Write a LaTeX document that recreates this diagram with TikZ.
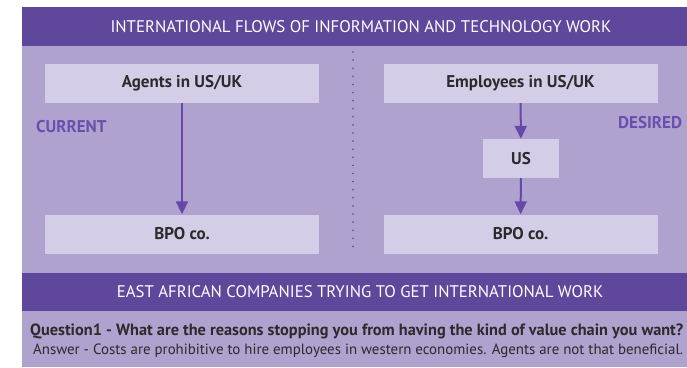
\documentclass[tikz,border=0pt]{standalone}
\usepackage{fontspec}
\setmainfont{PT Sans}
\usepackage{xcolor}
\usetikzlibrary{arrows.meta,positioning}
\definecolor{bandDark}{HTML}{5F479B}
\definecolor{panelLight}{HTML}{AFA2CE}
\definecolor{boxFill}{HTML}{D4CDE7}
\definecolor{flowArrow}{HTML}{6748AA}
\definecolor{labelText}{HTML}{6A4FAD}
\definecolor{boxText}{HTML}{2B2B2B}

\tikzset{
  flowbox/.style={fill=boxFill, text=boxText, inner sep=0pt,
    font=\fontsize{17}{19}\selectfont\bfseries,
    minimum width=274pt, minimum height=39pt},
  smallbox/.style={flowbox, minimum width=76pt},
  bandtitle/.style={text=white, font=\fontsize{16.8}{19}\selectfont},
  sidelabel/.style={text=labelText, inner sep=0pt,
    font=\fontsize{17}{19}\selectfont\bfseries},
  flow/.style={draw=flowArrow, line width=2pt,
    -{Triangle[length=13pt,width=12pt]}},
  divider/.style={draw=bandDark, line width=1.8pt, line cap=round,
    dash pattern=on 0pt off 8.1pt}
}

\begin{document}
\begin{tikzpicture}[x=1pt,y=-1pt]
  \useasboundingbox (0,0) rectangle (687,367);
  % panels
  \fill[white] (0,0) rectangle (687,367);
  \fill[panelLight] (22,7) rectangle (687,367);
  \fill[bandDark] (22,7) rectangle (687,46);
  \fill[bandDark] (22,273) rectangle (687,311);
  \node[bandtitle] (topTitle) at (361,27) {INTERNATIONAL FLOWS OF INFORMATION AND TECHNOLOGY WORK};
  \node[bandtitle] (lowTitle) at (360,292) {EAST AFRICAN COMPANIES TRYING TO GET INTERNATIONAL WORK};

  % current
  \node[flowbox] (agents) at (182,83.5) {Agents in US/UK};
  \node[flowbox] (bpoNow) at (182,234) {BPO co.};
  \node[sidelabel, anchor=west] (current) at (36,127) {CURRENT};
  \draw[flow] (agents) -- (bpoNow);

  \draw[divider] (353,52) -- (353,247);

  % desired
  \node[flowbox] (employees) at (520.5,83.5) {Employees in US/UK};
  \node[smallbox] (usHub) at (521,158.5) {US};
  \node[flowbox] (bpoWant) at (520.5,234) {BPO co.};
  \node[sidelabel, anchor=west] (desired) at (618,123) {DESIRED};
  \draw[flow] (employees) -- (usHub);
  \draw[flow] (usHub) -- (bpoWant);

  % question
  \node[anchor=west, inner sep=0pt, text=boxText, font=\fontsize{16.3}{18}\selectfont\bfseries] (question) at (30,331)
    {Question1 - What are the reasons stopping you from having the kind of value chain you want?};
  \node[anchor=west, inner sep=0pt, text=boxText, font=\fontsize{14.9}{17}\selectfont] (answer) at (33,351)
    {Answer - Costs are prohibitive to hire employees in western economies. Agents are not that beneficial.};
\end{tikzpicture}
\end{document}
